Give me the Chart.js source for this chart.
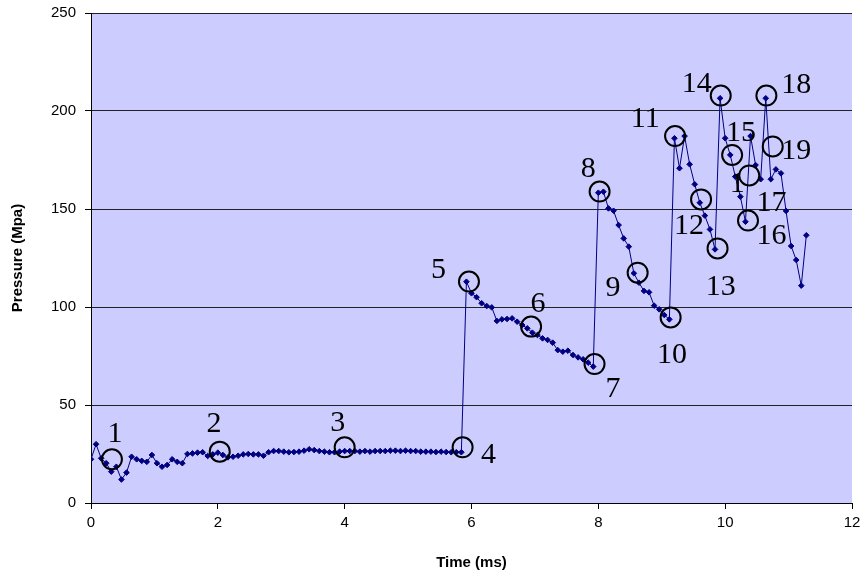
<!DOCTYPE html>
<html><head><meta charset="utf-8">
<script src="https://cdn.jsdelivr.net/npm/chart.js@4/dist/chart.umd.min.js"></script>
<style>html,body{margin:0;padding:0;background:#fff;}#wrap{width:867px;height:578px;}</style>
</head><body><div id="wrap"><canvas id="c" width="867" height="578"></canvas></div>
<script>
// ---- data ----
const timeMs = [0,0.08,0.16,0.24,0.32,0.4,0.48,0.56,0.64,0.72,0.8,0.88,0.96,
1.04,1.12,1.2,1.28,1.36,1.44,1.52,1.6,1.68,1.76,1.84,1.92,
2,2.08,2.16,2.24,2.32,2.4,2.48,2.56,2.64,2.72,2.8,2.88,2.96,
3.04,3.12,3.2,3.28,3.36,3.44,3.52,3.6,3.68,3.76,3.84,3.92,
4,4.08,4.16,4.24,4.32,4.4,4.48,4.56,4.64,4.72,4.8,4.88,4.96,
5.04,5.12,5.2,5.28,5.36,5.44,5.52,5.6,5.68,5.76,5.84,5.92,
6,6.08,6.16,6.24,6.32,6.4,6.48,6.56,6.64,6.72,6.8,6.88,6.96,
7.04,7.12,7.2,7.28,7.36,7.44,7.52,7.6,7.68,7.76,7.84,7.92,
8,8.08,8.16,8.24,8.32,8.4,8.48,8.56,8.64,8.72,8.8,8.88,8.96,
9.04,9.12,9.2,9.28,9.36,9.44,9.52,9.6,9.68,9.76,9.84,9.92,
10,10.08,10.16,10.24,10.32,10.4,10.48,10.56,10.64,10.72,10.8,10.88,10.96,
11.04,11.12,11.2,11.28];
const pressureMpa = [22.3,30,22.8,20.3,16,18.5,12,15.5,23.6,22.3,
21.5,21,24.5,20.3,18.5,19.4,22.3,21,20.3,25,
25.3,25.7,25.9,24,24.8,25.7,24.5,23.3,23.6,24.1,
24.8,25,24.8,24.8,24.1,25.9,26.5,26.5,26.2,25.9,
26.0,26.2,26.7,27.4,27.0,26.5,26.2,25.9,25.9,26.2,
26.5,26.5,26.5,26.2,26.5,26.2,26.5,26.5,26.5,26.7,
26.7,26.5,26.7,26.5,26.5,26.2,26.2,26.2,26.0,26.2,
26.0,25.9,25.9,25.9,112.9,107,105,101.9,100.5,99.8,
92.9,93.7,93.9,94.2,92.5,90.8,89.1,86.9,85.7,84,
83.2,81.8,78,77.2,77.7,75.5,74.3,73.3,71.6,69.6,
158.3,158.8,150.3,149.1,141.8,135,130.8,117.2,112.4,108.2,
107.5,100.7,98.8,95.9,93.7,186.1,170.8,187.2,172.8,162.6,
153.2,146.6,139.6,129.4,206.5,186.1,177.6,166.5,156.3,143.5,
187.2,172.4,165.2,206.5,165.2,170.2,168.2,149,131.1,124,
110.9,136.6];
const xTickValues = [0,2,4,6,8,10,12];
const yTickValues = [0,50,100,150,200,250];

// circled events (data coordinates)
const circleT = [0.33,2.03,4.0,5.86,5.96,6.94,7.94,8.02,8.62,9.14,9.21,9.62,9.88,9.93,10.11,10.38,10.36,10.65,10.75];
const circleP = [22.3,26.2,28.4,28.4,113.0,90.0,70.9,158.9,117.5,94.7,187.2,154.9,129.9,207.9,177.6,167.1,144.1,207.9,181.9];
// event number labels (data coordinates of text centre)
const eventText = ['1','2','3','4','5','6','7','8','9','10','11','12','13','14','15','1','16','17','18','19'];
const eventT = [0.38,1.94,3.89,6.27,5.48,7.05,8.23,7.84,8.23,9.16,8.74,9.43,9.93,9.55,10.25,10.19,10.73,10.73,11.12,11.12];
const eventP = [36.4,41.1,41.6,25.3,119.7,102.3,58.9,171.2,110.7,76.4,196.9,142.3,111.0,214.5,189.8,163.5,137.2,154.2,214.3,180.6];

const points = timeMs.map((t,i)=>({x:t,y:pressureMpa[i]}));

const bgPlugin = {
  id:'bg',
  beforeDraw(chart){
    const {ctx, chartArea:a} = chart;
    ctx.save(); ctx.fillStyle='#CCCCFF';
    ctx.fillRect(a.left,a.top,a.right-a.left,a.bottom-a.top);
    ctx.restore();
  }
};
const annPlugin = {
  id:'ann',
  afterDatasetsDraw(chart){
    const {ctx, scales:{x,y}} = chart;
    ctx.save();
    ctx.strokeStyle='#000'; ctx.lineWidth=2;
    for(let i=0;i<circleT.length;i++){
      ctx.beginPath();
      ctx.arc(x.getPixelForValue(circleT[i]), y.getPixelForValue(circleP[i]), 10, 0, Math.PI*2);
      ctx.stroke();
    }
    const fs = 30;
    ctx.fillStyle='#000'; ctx.font = fs+'px "Liberation Serif", "Times New Roman", serif';
    ctx.textAlign='center'; ctx.textBaseline='alphabetic';
    for(let i=0;i<eventText.length;i++){
      ctx.fillText(eventText[i], x.getPixelForValue(eventT[i]), y.getPixelForValue(eventP[i]) + fs*0.33);
    }
    ctx.restore();
  }
};

const tickFont = {family:'"Liberation Sans", Arial, sans-serif', size:15};
const titleFont = {family:'"Liberation Sans", Arial, sans-serif', size:15, weight:'bold'};

new Chart(document.getElementById('c'), {
  type:'scatter',
  data:{datasets:[{
    data:points, showLine:true, borderColor:'#000080', borderWidth:1,
    pointStyle:'rectRot', pointRadius:2.8, pointBackgroundColor:'#000080',
    pointBorderColor:'#000080', pointBorderWidth:1, tension:0
  }]},
  options:{
    responsive:false, animation:false, devicePixelRatio:1,
    layout:{padding:{top:13,right:15,left:0,bottom:0}},
    plugins:{legend:{display:false}, tooltip:{enabled:false}},
    scales:{
      x:{type:'linear', min:0, max:12,
        afterBuildTicks(s){ s.ticks = xTickValues.map(v=>({value:v})); },
        afterFit(s){ s.height = 75; },
        ticks:{font:tickFont, color:'#000', padding:5, maxRotation:0},
        grid:{drawOnChartArea:false, drawTicks:true, tickLength:6, tickColor:'#000', tickWidth:1},
        border:{display:true, color:'#000', width:1},
        title:{display:true, text:'Time (ms)', font:titleFont, color:'#000', padding:{top:0,bottom:6}}
      },
      y:{type:'linear', min:0, max:250,
        afterBuildTicks(s){ s.ticks = yTickValues.map(v=>({value:v})); },
        afterFit(s){ s.width = 91; s.paddingTop = 0; },
        ticks:{font:tickFont, color:'#000', padding:9},
        grid:{color:'#222', lineWidth:1, drawTicks:true, tickLength:6, tickColor:'#000'},
        border:{display:true, color:'#000', width:1},
        title:{display:true, text:'Pressure (Mpa)', font:titleFont, color:'#000', padding:{top:9,bottom:0}}
      }
    }
  },
  plugins:[bgPlugin, annPlugin]
});
</script>
</body></html>
